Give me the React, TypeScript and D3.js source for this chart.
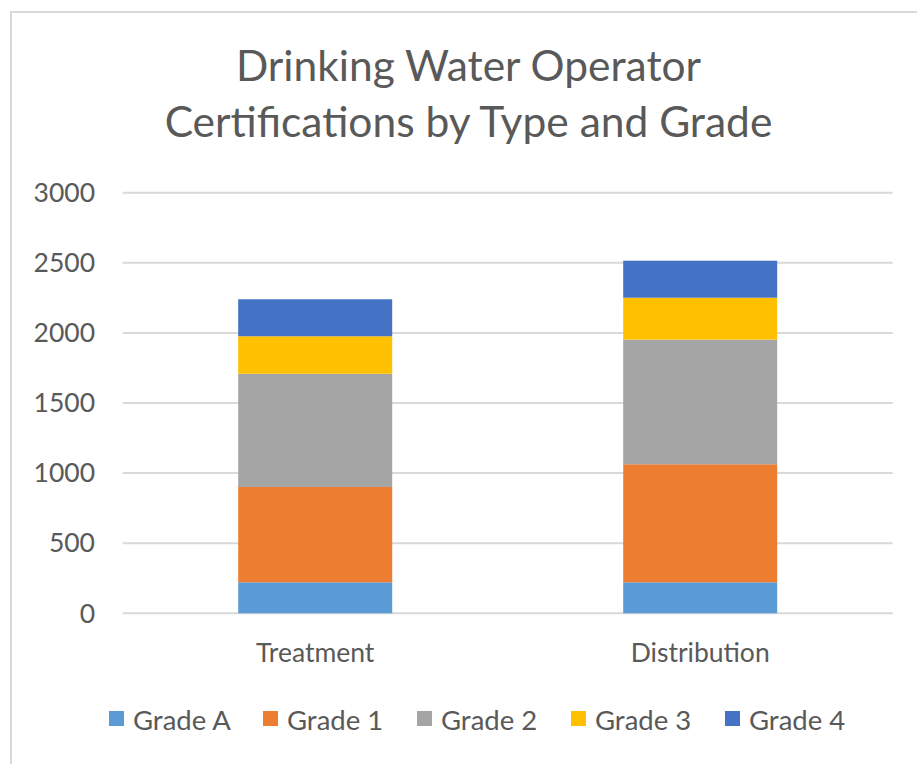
import React from "react";
import * as d3 from "d3";

const categories = ["Treatment", "Distribution"];
const seriesNames = ["Grade A", "Grade 1", "Grade 2", "Grade 3", "Grade 4"];
const gradeA = [221, 221];
const grade1 = [680, 842];
const grade2 = [808, 889];
const grade3 = [267, 299];
const grade4 = [264, 264];
const yTicks = [0, 500, 1000, 1500, 2000, 2500, 3000];
const colors = ["#5B9BD5", "#ED7D31", "#A5A5A5", "#FFC000", "#4472C4"];
const titleLines = ["Drinking Water Operator", "Certifications by Type and Grade"];

const W = 917;
const H = 764;
const FONT = "Lato, 'Open Sans', sans-serif";
const TEXT = "#595959";

export default function App() {
  const seriesValues = [gradeA, grade1, grade2, grade3, grade4];
  const rows = categories.map((c, i) => {
    const r: any = { category: c };
    seriesNames.forEach((s, j) => (r[s] = seriesValues[j][i]));
    return r;
  });
  const stacked = d3.stack<any>().keys(seriesNames)(rows);

  const x = d3
    .scaleBand<string>()
    .domain(categories)
    .range([122.7, 892.7])
    .paddingInner(0.6)
    .paddingOuter(0.3);
  const y = d3.scaleLinear().domain([0, 3000]).range([613.3, 192.7]);

  const legendStart = 109;
  const legendStep = 154;

  return (
    <svg
      width={W}
      height={H}
      style={{ position: "absolute", left: 0, top: 0, background: "#fff" }}
      fontFamily={FONT}
    >
      <rect x={0} y={0} width={W} height={H} fill="#fff" />
      <rect x={11} y={12} width={1200} height={1200} fill="none" stroke="#d9d9d9" strokeWidth={2} />
      {titleLines.map((t, i) => (
        <text key={t} x={468.5} y={81 + i * 56} textAnchor="middle" fontSize={42.5} fill={TEXT}>
          {t}
        </text>
      ))}
      {yTicks.map((t) => (
        <g key={t}>
          <line x1={122.7} x2={892.7} y1={y(t)} y2={y(t)} stroke="#d9d9d9" strokeWidth={2} />
          <text x={95} y={y(t)} dy="0.35em" textAnchor="end" fontSize={26.5} fill={TEXT}>
            {t}
          </text>
        </g>
      ))}
      {stacked.map((s, j) => (
        <g key={s.key} fill={colors[j]}>
          {s.map((d, i) => (
            <rect
              key={i}
              x={x(categories[i])}
              width={x.bandwidth()}
              y={y(d[1])}
              height={y(d[0]) - y(d[1])}
            />
          ))}
        </g>
      ))}
      {categories.map((c) => (
        <text
          key={c}
          x={(x(c) as number) + x.bandwidth() / 2}
          y={662}
          textAnchor="middle"
          fontSize={26.5}
          fill={TEXT}
        >
          {c}
        </text>
      ))}
      {seriesNames.map((s, j) => (
        <g key={s} transform={`translate(${legendStart + j * legendStep},0)`}>
          <rect x={0} y={711} width={15} height={15} fill={colors[j]} />
          <text x={24} y={730} fontSize={27.5} fill={TEXT}>
            {s}
          </text>
        </g>
      ))}
    </svg>
  );
}
